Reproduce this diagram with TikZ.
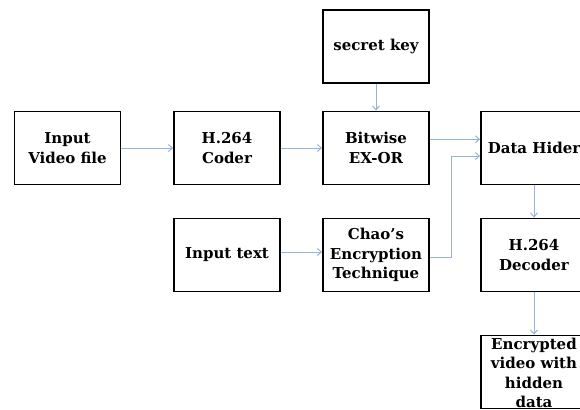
\documentclass[tikz,border=0pt]{standalone}
\usepackage{fontspec}
\newfontfamily\lblfont{DejaVu Serif}
\usetikzlibrary{arrows.meta}
\definecolor{arrowblue}{RGB}{149,179,215}
\tikzset{
  box/.style={draw=black, line width=1.8pt, minimum width=106pt, minimum height=73pt,
    inner sep=1pt, align=center, font=\lblfont\bfseries\fontsize{15}{19.5}\selectfont, fill=white},
  lbl/.style={inner sep=0pt, align=center, font=\lblfont\bfseries\fontsize{15}{19.5}\selectfont},
  flow/.style={draw=arrowblue, line width=1pt, -{Straight Barb[length=4pt,width=7pt]}}
}
\begin{document}
\begin{tikzpicture}[x=1pt,y=-1pt]
\useasboundingbox (0,0) rectangle (580,409);
\clip (0,0) rectangle (580,409);
\node[box] (video) at (67.5,148) {Input\\Video file};
\node[box] (coder) at (227,148) {H.264\\Coder};
\node[box] (bitwise) at (376,148) {Bitwise\\EX-OR};
\node[box] (key) at (376,46.7) {secret key};
\node[box] (hider) at (534,148) {Data Hider};
\node[box] (text) at (227,255) {Input text};
\node[box] (chao) at (376,255) {Chao’s\\Encryption\\Technique};
\node[box] (decoder) at (534,255) {H.264\\Decoder};
\node[box] (enc) at (534,372) {};
\node[lbl, anchor=north] (encT) at (534,337.5) {Encrypted\\video with\\hidden\\data};
\draw[flow] (video) -- (coder);
\draw[flow] (coder) -- (bitwise);
\draw[flow] (key) -- (bitwise);
\draw[flow] ([yshift=8.7pt]bitwise.east) -- ([yshift=8.7pt]hider.west);
\draw[flow] ([yshift=3pt]text.east) -- ([yshift=3pt]chao.west);
\draw[flow] ([yshift=-2pt]chao.east) -- ++(22,0) |- ([yshift=-8pt]hider.west);
\draw[flow] (hider) -- (decoder);
\draw[flow] (decoder) -- (enc);
\end{tikzpicture}
\end{document}
